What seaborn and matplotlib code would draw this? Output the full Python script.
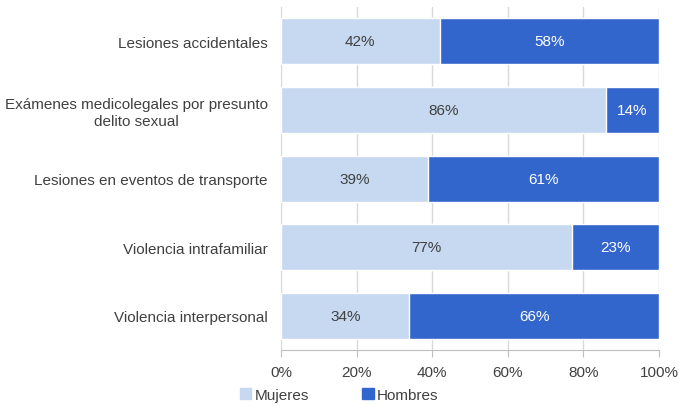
import matplotlib.pyplot as plt
import seaborn as sns
import pandas as pd
from matplotlib.patches import Patch
from matplotlib.ticker import PercentFormatter

categories = [
    "Lesiones accidentales",
    "Exámenes medicolegales por presunto\ndelito sexual",
    "Lesiones en eventos de transporte",
    "Violencia intrafamiliar",
    "Violencia interpersonal",
]
mujeres = [42, 86, 39, 77, 34]
hombres = [58, 14, 61, 23, 66]

light = "#C6D9F1"
dark = "#3366CC"

sns.set_style("white")
plt.rcParams["font.family"] = ["Liberation Sans", "DejaVu Sans"]
plt.rcParams["font.size"] = 11

df = pd.DataFrame({"cat": categories, "Mujeres": mujeres, "Hombres": hombres})
df["Total"] = df["Mujeres"] + df["Hombres"]

fig = plt.figure(figsize=(6.79, 4.06), dpi=100)
ax = fig.add_axes([0.4138, 0.1355, 0.5567, 0.8445])

# stacked: total bar in dark, mujeres on top in light
sns.barplot(data=df, x="Total", y="cat", color=dark, width=0.67, ax=ax, saturation=1, zorder=2)
sns.barplot(data=df, x="Mujeres", y="cat", color=light, width=0.67, ax=ax, saturation=1, zorder=3)

for i, (m, h) in enumerate(zip(mujeres, hombres)):
    ax.text(m / 2, i, f"{m}%", ha="center", va="center", color="#404040", fontsize=11, zorder=4)
    ax.text(m + h / 2, i, f"{h}%", ha="center", va="center", color="white", fontsize=11, zorder=4)

ax.set_xlim(0, 100)
ax.set_xticks([0, 20, 40, 60, 80, 100])
ax.xaxis.set_major_formatter(PercentFormatter(decimals=0))
ax.set_xlabel("")
ax.set_ylabel("")
ax.grid(axis="x", color="#D9D9D9", linewidth=1, zorder=0)
ax.set_axisbelow(True)
for s in ["top", "right"]:
    ax.spines[s].set_visible(False)
ax.spines["left"].set_color("#D9D9D9")
ax.spines["bottom"].set_color("#BFBFBF")
ax.tick_params(axis="x", bottom=True, length=5, color="#BFBFBF", labelsize=11, labelcolor="#404040", pad=6)
ax.tick_params(axis="y", left=False, labelsize=11, labelcolor="#404040", pad=6)
for lbl in ax.get_yticklabels():
    lbl.set_multialignment("center")

handles = [Patch(color=light, label="Mujeres"), Patch(color=dark, label="Hombres")]
fig.legend(handles=handles, loc="center left", bbox_to_anchor=(0.333, 0.025), ncol=2,
           frameon=False, handlelength=0.75, handleheight=0.75, handletextpad=0.2,
           columnspacing=3.5, fontsize=11, labelcolor="#404040")

fig.savefig("out.png", dpi=100)
